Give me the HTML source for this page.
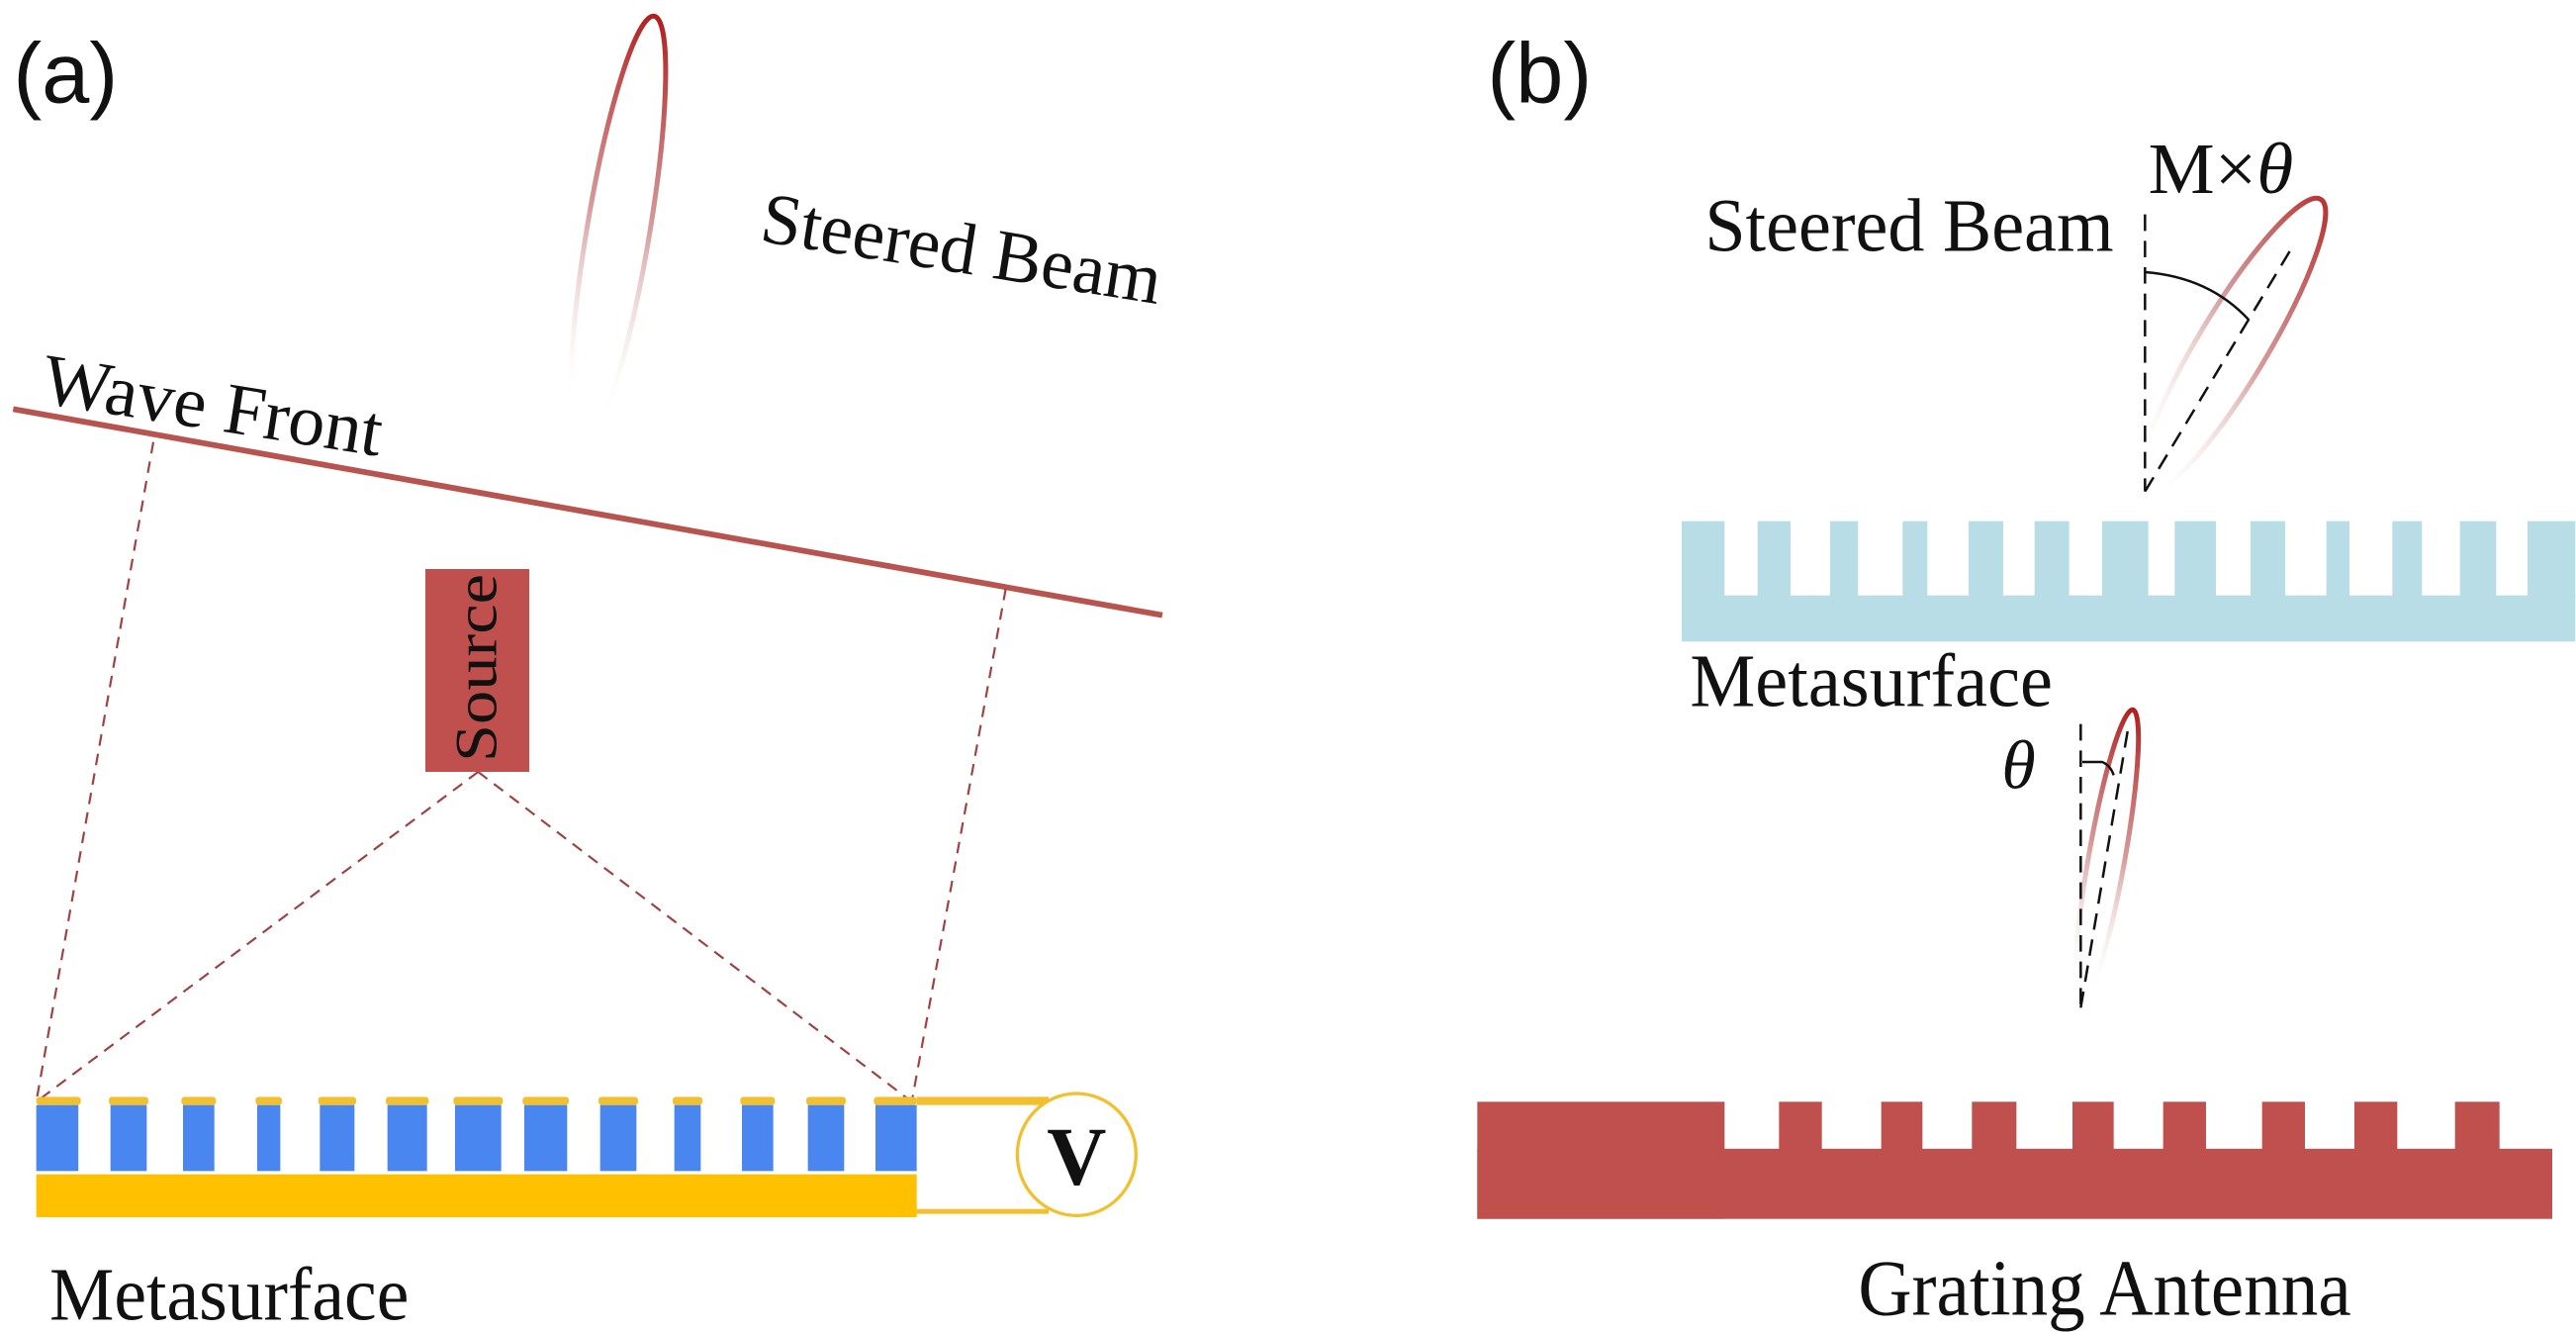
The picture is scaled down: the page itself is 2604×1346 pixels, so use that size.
<!DOCTYPE html>
<html><head><meta charset="utf-8"><style>html,body{margin:0;padding:0;background:#fff}svg{display:block}</style></head>
<body>
<svg width="2604" height="1346" viewBox="0 0 1562.4 807.6" xmlns="http://www.w3.org/2000/svg">
<defs>
<linearGradient id="ga" gradientUnits="userSpaceOnUse" x1="398" y1="10" x2="355" y2="250">
<stop offset="0" stop-color="#b01c1c"/><stop offset="0.5" stop-color="#c98080" stop-opacity="0.8"/><stop offset="1" stop-color="#fff" stop-opacity="0"/></linearGradient>
<linearGradient id="gb" gradientUnits="userSpaceOnUse" x1="1408" y1="118" x2="1305" y2="280">
<stop offset="0" stop-color="#b01c1c"/><stop offset="0.5" stop-color="#c98080" stop-opacity="0.8"/><stop offset="1" stop-color="#fff" stop-opacity="0"/></linearGradient>
<linearGradient id="gc" gradientUnits="userSpaceOnUse" x1="1294" y1="430" x2="1262" y2="600">
<stop offset="0" stop-color="#b01c1c"/><stop offset="0.5" stop-color="#c98080" stop-opacity="0.8"/><stop offset="1" stop-color="#fff" stop-opacity="0"/></linearGradient>
</defs>
<g font-family="Liberation Serif, serif" fill="#111">
<text x="8" y="62" font-family="Liberation Sans, sans-serif" font-size="52">(a)</text>
<ellipse cx="375" cy="140" rx="19" ry="132" transform="rotate(9.5 375 140)" fill="none" stroke="url(#ga)" stroke-width="3"/>
<text x="460" y="146" font-size="44" textLength="245" lengthAdjust="spacingAndGlyphs" transform="rotate(9 460 146)">Steered Beam</text>
<text x="24" y="244" font-size="44" textLength="208" lengthAdjust="spacingAndGlyphs" transform="rotate(9 24 244)">Wave Front</text>
<line x1="8" y1="248" x2="705" y2="373" stroke="#b85450" stroke-width="3.5"/>
<g stroke="#a04040" stroke-width="1.3" stroke-dasharray="7,5" fill="none">
<line x1="93" y1="268" x2="22" y2="668"/>
<line x1="610" y1="357" x2="553" y2="668"/>
<line x1="290" y1="468" x2="22" y2="668"/>
<line x1="290" y1="468" x2="553" y2="668"/>
</g>
<rect x="258" y="345" width="63" height="123" fill="#c0504d"/>
<text transform="translate(301 462) rotate(-90)" font-size="36" fill="#111" textLength="114" lengthAdjust="spacingAndGlyphs">Source</text>
<rect x="22" y="712" width="534" height="26" fill="#ffc000"/>
<g fill="#4a86f0">
<rect x="22" y="670" width="25.5" height="40"/><rect x="67" y="670" width="22" height="40"/><rect x="111" y="670" width="19" height="40"/><rect x="156" y="670" width="14" height="40"/><rect x="194" y="670" width="21" height="40"/><rect x="235" y="670" width="24" height="40"/><rect x="276" y="670" width="28" height="40"/><rect x="318" y="670" width="26" height="40"/><rect x="364" y="670" width="22" height="40"/><rect x="409" y="670" width="16" height="40"/><rect x="450" y="670" width="19" height="40"/><rect x="490" y="670" width="22" height="40"/><rect x="531" y="670" width="25" height="40"/>
</g>
<g fill="#f0c030">
<rect x="22" y="665" width="27" height="5" rx="2"/><rect x="66" y="665" width="24" height="5" rx="2"/><rect x="110" y="665" width="21" height="5" rx="2"/><rect x="155" y="665" width="16" height="5" rx="2"/><rect x="193" y="665" width="23" height="5" rx="2"/><rect x="234" y="665" width="26" height="5" rx="2"/><rect x="275" y="665" width="30" height="5" rx="2"/><rect x="317" y="665" width="28" height="5" rx="2"/><rect x="363" y="665" width="24" height="5" rx="2"/><rect x="408" y="665" width="18" height="5" rx="2"/><rect x="449" y="665" width="21" height="5" rx="2"/><rect x="489" y="665" width="24" height="5" rx="2"/><rect x="530" y="665" width="26" height="5" rx="2"/>
<rect x="556" y="665" width="80" height="5"/>
<rect x="556" y="733" width="80" height="3"/>
</g>
<ellipse cx="653" cy="700" rx="36" ry="37" fill="#fff" stroke="#f0c030" stroke-width="2"/>
<text x="653" y="718" font-size="50" font-weight="bold" text-anchor="middle">V</text>
<text x="30" y="800" font-size="46" textLength="218" lengthAdjust="spacingAndGlyphs">Metasurface</text>
<text x="902" y="62" font-family="Liberation Sans, sans-serif" font-size="52">(b)</text>
<text x="1034" y="152" font-size="46" textLength="248" lengthAdjust="spacingAndGlyphs">Steered Beam</text>
<text x="1303" y="117" font-size="44" textLength="88" lengthAdjust="spacingAndGlyphs">M×<tspan font-style="italic">θ</tspan></text>
<ellipse cx="1354" cy="210" rx="21" ry="104" transform="rotate(31 1354 210)" fill="none" stroke="url(#gb)" stroke-width="3"/>
<g stroke="#111" stroke-width="1.5" fill="none">
<line x1="1301" y1="130" x2="1301" y2="298" stroke-dasharray="10,6"/>
<line x1="1301" y1="298" x2="1389" y2="152" stroke-dasharray="10,6"/>
<path d="M1301 165 Q1340 168 1364 194"/>
</g>
<g fill="#b8dde6">
<rect x="1020" y="361" width="542" height="28"/>
<rect x="1020" y="316" width="26" height="46"/><rect x="1066" y="316" width="20" height="46"/><rect x="1110" y="316" width="17" height="46"/><rect x="1154" y="316" width="15" height="46"/><rect x="1194" y="316" width="21" height="46"/><rect x="1234" y="316" width="21" height="46"/><rect x="1275" y="316" width="28" height="46"/><rect x="1319" y="316" width="25" height="46"/><rect x="1365" y="316" width="21" height="46"/><rect x="1411" y="316" width="14" height="46"/><rect x="1451" y="316" width="18" height="46"/><rect x="1492" y="316" width="22" height="46"/><rect x="1533" y="316" width="29" height="46"/>
</g>
<text x="1025" y="428" font-size="46" textLength="220" lengthAdjust="spacingAndGlyphs">Metasurface</text>
<ellipse cx="1278" cy="519" rx="11" ry="90" transform="rotate(10 1278 519)" fill="none" stroke="url(#gc)" stroke-width="3"/>
<g stroke="#111" stroke-width="1.5" fill="none">
<line x1="1262" y1="439" x2="1262" y2="611" stroke-dasharray="10,6"/>
<line x1="1262" y1="611" x2="1291" y2="440" stroke-dasharray="10,6"/>
<path d="M1263 462 L1275 462 Q1280 464 1282 470"/>
</g>
<text x="1214" y="478" font-size="42" font-style="italic">θ</text>
<g fill="#c0504d">
<rect x="896" y="668" width="150" height="71"/>
<rect x="896" y="696.5" width="652" height="42.5"/>
<rect x="1079" y="668" width="26" height="30"/><rect x="1141" y="668" width="25" height="30"/><rect x="1196" y="668" width="27" height="30"/><rect x="1257" y="668" width="25" height="30"/><rect x="1312" y="668" width="26" height="30"/><rect x="1372" y="668" width="26" height="30"/><rect x="1428" y="668" width="26" height="30"/><rect x="1489" y="668" width="27" height="30"/>
</g>
<text x="1127" y="797" font-size="48" textLength="299" lengthAdjust="spacingAndGlyphs">Grating Antenna</text>
</g>
</svg>
</body></html>
